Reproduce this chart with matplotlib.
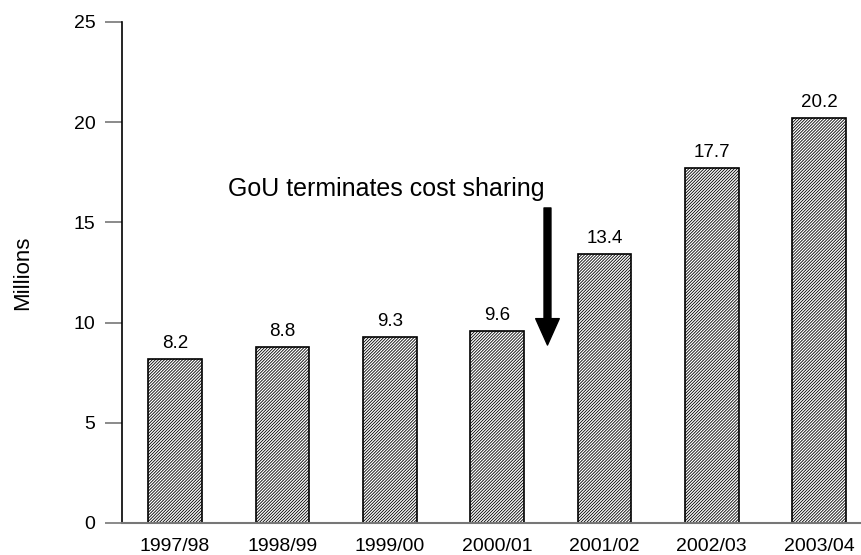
import matplotlib.pyplot as plt

years = ["1997/98", "1998/99", "1999/00", "2000/01", "2001/02", "2002/03", "2003/04"]
values = [8.2, 8.8, 9.3, 9.6, 13.4, 17.7, 20.2]

plt.rcParams['font.family'] = ['Liberation Sans', 'DejaVu Sans']
plt.rcParams['hatch.linewidth'] = 0.6
plt.rcParams['hatch.color'] = '#707070'

fig = plt.figure(figsize=(8.62, 5.55), dpi=100)
ax = fig.add_axes([0.1415, 0.0577, 0.8585, 0.9027])

x = range(len(years))
ax.bar(x, values, width=0.5, color='white', edgecolor='black',
       linewidth=1.2, hatch='/' * 11)
for xi, v in zip(x, values):
    ax.text(xi, v + 0.35, f"{v:.1f}", ha='center', va='bottom', fontsize=13.5)

ax.set_xlim(-0.494, 6.4)
ax.set_ylim(0, 25)
ax.set_yticks([0, 5, 10, 15, 20, 25])
ax.set_xticks(list(x))
ax.set_xticklabels(years)
ax.tick_params(axis='x', length=0, labelsize=14, pad=11)
ax.tick_params(axis='y', direction='out', length=12, width=1.2, color='#777777',
               labelsize=14, pad=7)

for s in ['top', 'right']:
    ax.spines[s].set_visible(False)
ax.spines['left'].set_color('black')
ax.spines['left'].set_linewidth(1.2)
ax.spines['bottom'].set_color('#777777')
ax.spines['bottom'].set_linewidth(1.5)

ax.set_ylabel("Millions", fontsize=16, labelpad=29)

ax.annotate("", xy=(3.47, 8.88), xytext=(3.47, 15.72),
            arrowprops=dict(width=5, headwidth=17, headlength=19, shrink=0,
                            facecolor='black', edgecolor='black'))
ax.text(1.97, 16.3, "GoU terminates cost sharing", ha='center', va='baseline',
        fontsize=18)

fig.savefig("out.png", dpi=100)
